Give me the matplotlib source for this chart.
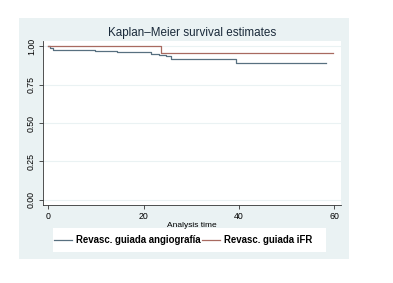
import matplotlib
matplotlib.use("Agg")
import matplotlib.pyplot as plt
from matplotlib.patches import Rectangle

plt.rcParams['font.family'] = ['Liberation Sans', 'DejaVu Sans']

# Kaplan-Meier step curves (time in months, survival)
t_angio = [0, 0.4, 1.0, 9.8, 14.4, 21.5, 23.2, 24.8, 25.7, 39.4, 58.3]
s_angio = [1.0, 0.988, 0.974, 0.967, 0.961, 0.952, 0.941, 0.935, 0.917, 0.891, 0.891]
t_ifr = [0, 23.6, 59.7]
s_ifr = [1.0, 0.956, 0.956]

labels = ['Revasc. guiada angiografía', 'Revasc. guiada iFR']
col_angio = '#587080'
col_ifr = '#a86a60'
bg = '#eaf2f3'

W, H = 393, 283
fig = plt.figure(figsize=(W / 100, H / 100), dpi=100)
fig.patch.set_facecolor('white')
# outer graph region and legend box
fig.add_artist(Rectangle((19 / W, 1 - 259 / H), 330 / W, 241 / H,
                         transform=fig.transFigure, facecolor=bg,
                         edgecolor='none', zorder=0))
fig.add_artist(Rectangle((53 / W, 1 - 252 / H), 273 / W, 24 / H,
                         transform=fig.transFigure, facecolor='white',
                         edgecolor='none', zorder=0.5))

ax = fig.add_axes([43 / W, 1 - 205 / H, 298 / W, 164 / H])
ax.set_facecolor('white')
ax.set_zorder(1)

ax.step(t_angio, s_angio, where='post', color=col_angio, lw=0.9, label=labels[0])
ax.step(t_ifr, s_ifr, where='post', color=col_ifr, lw=0.9, label=labels[1])

ax.set_xlim(-1.1, 61.4)
ax.set_ylim(-0.0345, 1.0345)
ax.set_xticks([0, 20, 40, 60])
ax.set_yticks([0, 0.25, 0.5, 0.75, 1.0])
ax.set_yticklabels(['0.00', '0.25', '0.50', '0.75', '1.00'], rotation=90, va='center')
ax.grid(axis='y', color=bg, lw=0.8)
ax.set_axisbelow(True)
for s in ['top', 'right']:
    ax.spines[s].set_visible(False)
for s in ['left', 'bottom']:
    ax.spines[s].set_color('#333333')
    ax.spines[s].set_linewidth(0.6)
ax.tick_params(labelsize=6.3, width=0.6, length=3, color='#333333', pad=2)
ax.set_xlabel('Analysis time', fontsize=6, labelpad=1)

fig.text(192 / W, 1 - 33 / H, 'Kaplan\u2013Meier survival estimates',
         ha='center', va='center', fontsize=8.4, color='#1a2a3a')

leg = fig.legend(loc='center left', ncol=2, bbox_to_anchor=(54 / W, 1 - 240 / H),
                 frameon=False, prop={'weight': 'bold', 'size': 6.9},
                 handlelength=1.9, handletextpad=0.4, columnspacing=0.1,
                 borderaxespad=0, borderpad=0)
leg.set_zorder(2)

fig.savefig('out.png', dpi=100)
